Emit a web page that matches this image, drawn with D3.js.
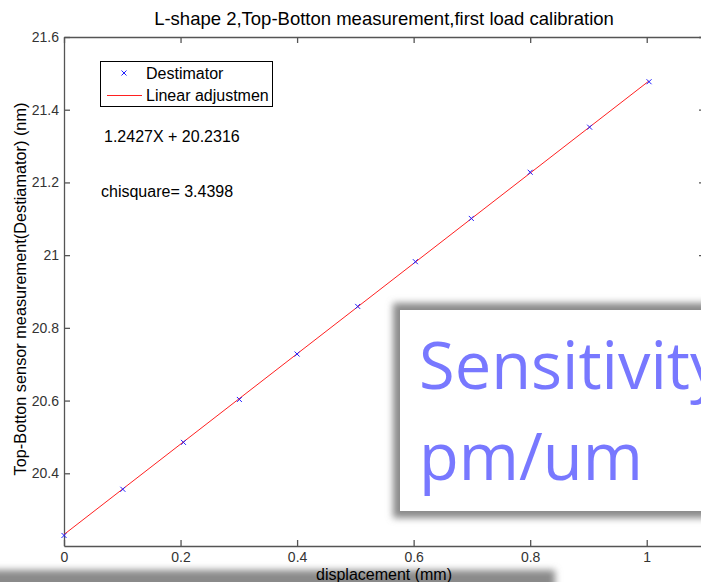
<!DOCTYPE html>
<html lang="en">
<head>
    <meta charset="UTF-8">
    <title>L-shape 2 calibration</title>
    <style>
        body {
            margin: 0;
            padding: 0;
            background: #fff;
        }
        svg {
            display: block;
        }
        text {
            font-family: "Liberation Sans", Arial, sans-serif;
        }
        text.big {
            font-family: "Open Sans", sans-serif;
        }
        .axis path, .axis line {
            stroke: #555;
            stroke-width: 1.3px;
        }
        .axis text {
            font-size: 14px;
            fill: #333;
        }
    </style>
</head>
<body>
    <script src="https://d3js.org/d3.v7.min.js"></script>
    <script>
        // measured points (displacement mm, sensor nm)
        const displacement = [0, 0.101, 0.205, 0.301, 0.4, 0.504, 0.603, 0.699, 0.8, 0.902, 1.004];
        const destimator = [20.229, 20.356, 20.485, 20.603, 20.728, 20.859, 20.982, 21.101, 21.228, 21.352, 21.477];

        // fit coefficients shown on the chart
        const fitSlope = 1.2427;
        const fitIntercept = 20.2316;
        const chisquare = 3.4398;

        const xTicks = [0, 0.2, 0.4, 0.6, 0.8, 1];
        const yTicks = [20.4, 20.6, 20.8, 21, 21.2, 21.4, 21.6];

        const width = 701;
        const height = 582;
        const margin = {left: 64, top: 37, right: 705, bottom: 546};

        const svg = d3.select('body').append('svg')
            .attr('width', width)
            .attr('height', height);

        const defs = svg.append('defs');
        defs.append('filter')
            .attr('id', 'blur')
            .attr('x', '-20%').attr('y', '-50%')
            .attr('width', '140%').attr('height', '200%')
            .append('feGaussianBlur')
            .attr('stdDeviation', 3.5);

        const x = d3.scaleLinear().domain([0, 1.1]).range([margin.left, margin.right]);
        const y = d3.scaleLinear().domain([20.2, 21.6]).range([margin.bottom, margin.top]);

        const fmt = d => String(+d.toFixed(1));

        // axes, ticks pointing inward like matlab
        svg.append('g')
            .attr('class', 'axis')
            .attr('transform', `translate(0,${margin.bottom})`)
            .call(d3.axisBottom(x).tickValues(xTicks).tickFormat(fmt).tickSize(-6).tickPadding(5).tickSizeOuter(0))
            .selectAll('text').attr('dy', '0.8em');

        svg.append('g')
            .attr('class', 'axis')
            .attr('transform', `translate(0,${margin.top})`)
            .call(d3.axisTop(x).tickValues(xTicks).tickFormat('').tickSize(-6).tickSizeOuter(0));

        svg.append('g')
            .attr('class', 'axis')
            .attr('transform', `translate(${margin.left},0)`)
            .call(d3.axisLeft(y).tickValues(yTicks).tickFormat(fmt).tickSize(-6).tickPadding(5).tickSizeOuter(0));

        svg.append('g')
            .attr('class', 'axis')
            .attr('transform', `translate(${margin.right},0)`)
            .call(d3.axisRight(y).tickValues(yTicks).tickFormat('').tickSize(-6).tickSizeOuter(0));

        // fit line
        const x0 = d3.min(displacement), x1 = d3.max(displacement);
        svg.append('line')
            .attr('x1', x(x0)).attr('y1', y(fitSlope * x0 + fitIntercept))
            .attr('x2', x(x1)).attr('y2', y(fitSlope * x1 + fitIntercept))
            .attr('stroke', '#ff2020')
            .attr('stroke-width', 1);

        // x markers
        const s = 2.5;
        const cross = `M${-s},${-s}L${s},${s}M${-s},${s}L${s},${-s}`;
        svg.append('g')
            .selectAll('path')
            .data(displacement.map((d, i) => [d, destimator[i]]))
            .enter().append('path')
            .attr('transform', d => `translate(${x(d[0])},${y(d[1])})`)
            .attr('d', cross)
            .attr('stroke', '#2020ff')
            .attr('stroke-width', 1)
            .attr('fill', 'none');

        // title and labels
        svg.append('text')
            .attr('x', 384)
            .attr('y', 25)
            .attr('text-anchor', 'middle')
            .attr('font-size', 18.5)
            .text('L-shape 2,Top-Botton measurement,first load calibration');

        svg.append('text')
            .attr('transform', 'translate(26,289) rotate(-90)')
            .attr('text-anchor', 'middle')
            .attr('font-size', 16.3)
            .text('Top-Botton sensor measurement(Destiamator) (nm)');

        // legend
        const legend = svg.append('g');
        legend.append('rect')
            .attr('x', 100.5).attr('y', 61.5)
            .attr('width', 172).attr('height', 45)
            .attr('fill', '#fff')
            .attr('stroke', '#000');
        legend.append('path')
            .attr('transform', 'translate(124,73)')
            .attr('d', cross)
            .attr('stroke', '#2020ff')
            .attr('fill', 'none');
        legend.append('line')
            .attr('x1', 107).attr('x2', 142)
            .attr('y1', 95.5).attr('y2', 95.5)
            .attr('stroke', '#ff2020');
        legend.append('text')
            .attr('x', 146).attr('y', 79)
            .attr('font-size', 16)
            .text('Destimator');
        legend.append('text')
            .attr('x', 146).attr('y', 101)
            .attr('font-size', 16)
            .text('Linear adjustmen');

        svg.append('text')
            .attr('x', 104).attr('y', 142)
            .attr('font-size', 16)
            .text(`${fitSlope}X + ${fitIntercept}`);

        svg.append('text')
            .attr('x', 101).attr('y', 197)
            .attr('font-size', 16)
            .text(`chisquare= ${chisquare}`);

        // overlay box with shadow
        svg.append('rect')
            .attr('x', 393).attr('y', 303)
            .attr('width', 340).attr('height', 215)
            .attr('fill', '#8a8a8a')
            .attr('filter', 'url(#blur)');
        svg.append('rect')
            .attr('x', 400).attr('y', 310)
            .attr('width', 330).attr('height', 201)
            .attr('fill', '#fff');
        svg.append('text')
            .attr('class', 'big')
            .attr('x', 419).attr('y', 389)
            .attr('font-size', 65)
            .attr('fill', '#7878ff')
            .text('Sensitivity');
        svg.append('text')
            .attr('class', 'big')
            .attr('x', 419).attr('y', 480)
            .attr('font-size', 65)
            .attr('fill', '#7878ff')
            .text('pm/um');

        // bottom shadow band
        svg.append('rect')
            .attr('x', -30).attr('y', 570)
            .attr('width', 585).attr('height', 40)
            .attr('fill', '#8a8a8a')
            .attr('filter', 'url(#blur)');

        svg.append('text')
            .attr('x', 384)
            .attr('y', 580)
            .attr('text-anchor', 'middle')
            .attr('font-size', 16)
            .text('displacement (mm)');
    </script>
</body>
</html>
